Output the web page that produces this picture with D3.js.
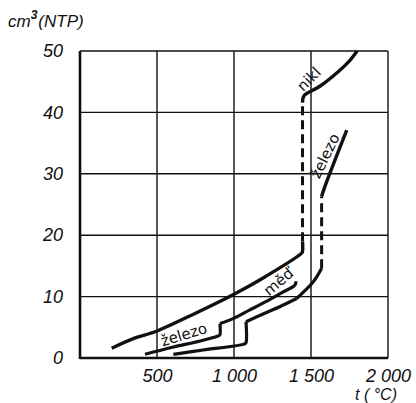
<!DOCTYPE html>
<html>
<head>
<meta charset="utf-8">
<script src="https://cdn.jsdelivr.net/npm/d3@7"></script>
<style>
  body { margin: 0; background: #fff; }
  svg text { fill: #111; }
</style>
</head>
<body>
<div id="chart"></div>
<script>
// temperature (°C) / dissolved volume (cm3 NTP)
const yTicks = [0, 10, 20, 30, 40, 50];
const xTicks = [500, 1000, 1500, 2000];
const xTickLabels = ['500', '1 000', '1 500', '2 000'];

const nickelSolid = [[206, 1.6], [350, 3.2], [500, 4.4], [750, 7.3], [1000, 10.4], [1200, 13.2], [1440, 17.1], [1445, 17.4], [1445, 19]];
const nickelJump = [[1445, 19], [1445, 41.6]];
const nickelLiquid = [[1445, 41.6], [1449, 42.4], [1462, 42.9], [1560, 44.3], [1680, 46.7], [1750, 48.4], [1800, 50]];

const ironAlpha = [[422, 0.6], [600, 1.75], [800, 2.9], [905, 3.7], [909, 3.8], [909, 5.6]];
const ironGamma = [[909, 5.6], [1000, 6.5], [1100, 7.8], [1200, 9.1], [1300, 10.5], [1396, 11.9], [1402, 12.5]];
const ironDelta = [[1407, 9.7], [1515, 12.4], [1569, 14.6]];
const ironJump = [[1569, 14.6], [1569, 26.3]];
const ironLiquid = [[1569, 26.3], [1590, 27.9], [1732, 37.1]];

const copperSolid = [[606, 0.6], [800, 1.3], [1070, 2.3], [1078, 2.5], [1078, 5.9]];
const copperLiquid = [[1078, 5.9], [1200, 7.3], [1300, 8.4], [1407, 9.7]];

const curveLabels = [
    { text: 'nikl', t: 1487, v: 45.4, angle: -45 },
    { text: 'železo', t: 1592, v: 32.9, angle: -64 },
    { text: 'železo', t: 675, v: 3.8, angle: -17 },
    { text: 'měď', t: 1290, v: 12.4, angle: -40 }
];

const W = 416, H = 403;
const margin = { top: 51, right: 28, bottom: 45, left: 80 };

const svg = d3.select('#chart').append('svg')
    .attr('width', W)
    .attr('height', H);

const x = d3.scaleLinear().domain([0, 2000]).range([margin.left, W - margin.right]);
const y = d3.scaleLinear().domain([0, 50]).range([H - margin.bottom, margin.top]);

// grid
svg.append('g')
    .selectAll('line')
    .data(xTicks)
    .enter()
    .append('line')
    .attr('x1', d => x(d)).attr('x2', d => x(d))
    .attr('y1', y(0)).attr('y2', y(50))
    .attr('stroke', '#111')
    .attr('stroke-width', 1.4);

svg.append('g')
    .selectAll('line')
    .data(yTicks.slice(1))
    .enter()
    .append('line')
    .attr('x1', x(0)).attr('x2', x(2000))
    .attr('y1', d => y(d)).attr('y2', d => y(d))
    .attr('stroke', '#111')
    .attr('stroke-width', 1.4);

// axes (labels only, the thick frame lines drawn below)
const yAxis = svg.append('g')
    .attr('transform', `translate(${x(0)},0)`)
    .call(d3.axisLeft(y).tickValues(yTicks).tickSize(0).tickPadding(17));
yAxis.select('.domain').remove();
yAxis.selectAll('text')
    .style('font-family', '"Liberation Sans", Arial, sans-serif')
    .style('font-style', 'italic')
    .style('font-size', '18px');

const xAxis = svg.append('g')
    .attr('transform', `translate(0,${y(0)})`)
    .call(d3.axisBottom(x).tickValues(xTicks).tickSize(0).tickPadding(11)
        .tickFormat((d, i) => xTickLabels[i]));
xAxis.select('.domain').remove();
xAxis.selectAll('text')
    .style('font-family', '"Liberation Sans", Arial, sans-serif')
    .style('font-style', 'italic')
    .style('font-size', '18px');

svg.append('line')
    .attr('x1', x(0)).attr('x2', x(0))
    .attr('y1', y(0) + 1).attr('y2', y(50))
    .attr('stroke', '#111').attr('stroke-width', 2.6);
svg.append('line')
    .attr('x1', x(0)).attr('x2', x(2000))
    .attr('y1', y(0)).attr('y2', y(0))
    .attr('stroke', '#111').attr('stroke-width', 2.6);

// axis titles
const yTitle = svg.append('text')
    .attr('x', 8)
    .attr('y', 27)
    .style('font-family', '"Liberation Sans", Arial, sans-serif')
    .style('font-style', 'italic')
    .style('font-size', '17px');
yTitle.append('tspan').text('cm');
yTitle.append('tspan').attr('dy', -8).style('font-size', '12px').style('font-weight', 'bold').text('3');
yTitle.append('tspan').attr('dy', 8).attr('dx', 1).text('(NTP)');

svg.append('text')
    .attr('x', x(2000) - 12)
    .attr('y', 400)
    .attr('text-anchor', 'middle')
    .style('font-family', '"Liberation Sans", Arial, sans-serif')
    .style('font-style', 'italic')
    .style('font-size', '16px')
    .text('t ( °C)');

// curves
const line = d3.line()
    .x(d => x(d[0]))
    .y(d => y(d[1]))
    .curve(d3.curveCatmullRom.alpha(0.5));

const segments = [
    { pts: nickelSolid, dash: null, w: 3.4 },
    { pts: nickelJump, dash: '9,5', w: 3 },
    { pts: nickelLiquid, dash: null, w: 3.4 },
    { pts: ironAlpha, dash: null, w: 3.2 },
    { pts: ironGamma, dash: null, w: 3.2 },
    { pts: ironDelta, dash: null, w: 3.2 },
    { pts: ironJump, dash: '9,5', w: 3 },
    { pts: ironLiquid, dash: null, w: 3.4 },
    { pts: copperSolid, dash: null, w: 3.2 },
    { pts: copperLiquid, dash: null, w: 3.2 }
];

svg.append('g')
    .selectAll('path')
    .data(segments)
    .enter()
    .append('path')
    .attr('d', d => line(d.pts))
    .attr('fill', 'none')
    .attr('stroke', '#111')
    .attr('stroke-width', d => d.w)
    .attr('stroke-linejoin', 'round')
    .attr('stroke-dasharray', d => d.dash);

// curve names
svg.append('g')
    .selectAll('text')
    .data(curveLabels)
    .enter()
    .append('text')
    .attr('transform', d => `translate(${x(d.t)},${y(d.v)}) rotate(${d.angle})`)
    .attr('text-anchor', 'middle')
    .attr('dominant-baseline', 'central')
    .style('font-family', '"DejaVu Sans", sans-serif')
    .style('font-size', '15px')
    .text(d => d.text);
</script>
</body>
</html>
